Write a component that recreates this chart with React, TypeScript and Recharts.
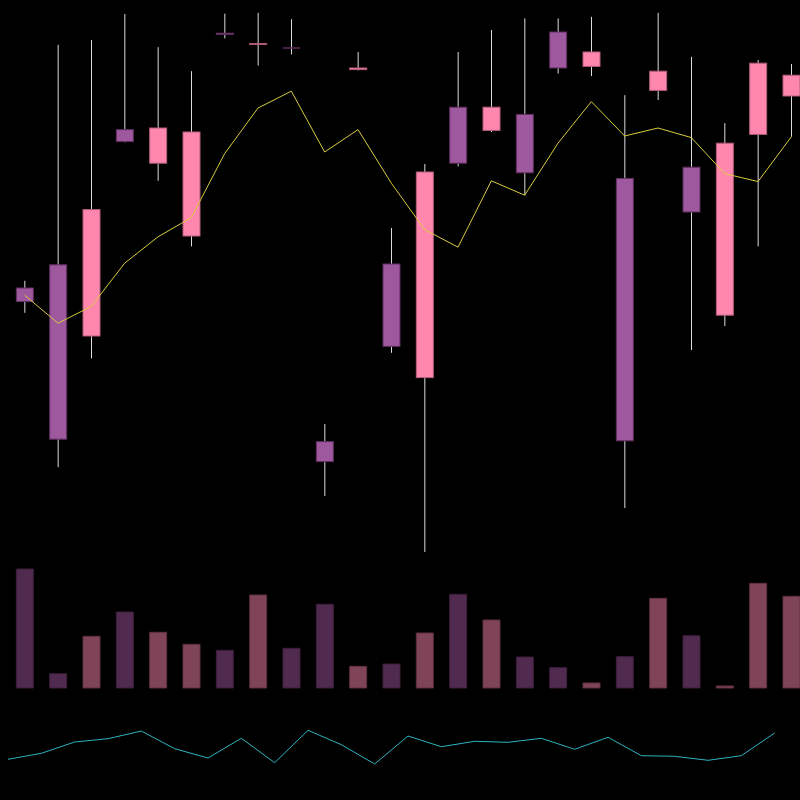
import React from 'react';
import { ComposedChart, Bar, Line, XAxis, YAxis, Cell } from 'recharts';

const dates = [
  'D01', 'D02', 'D03', 'D04', 'D05', 'D06', 'D07', 'D08', 'D09', 'D10', 'D11', 'D12',
  'D13', 'D14', 'D15', 'D16', 'D17', 'D18', 'D19', 'D20', 'D21', 'D22', 'D23', 'D24',
];
const opens = [85.0, 87.9, 79.0, 104.8, 100.6, 91.5, 116.85, 115.45, 115.0, 65.8, 112.3, 88.0,
  73.8, 107.6, 104.7, 106.7, 117.0, 112.7, 98.7, 109.7, 100.1, 81.6, 104.2, 109.0];
const closes = [83.3, 66.1, 94.8, 103.3, 105.0, 104.5, 116.7, 115.55, 115.0, 63.3, 112.5, 77.7,
  99.5, 100.6, 107.6, 99.4, 112.5, 114.5, 65.9, 112.1, 94.5, 103.1, 113.1, 111.6];
const highs = [85.9, 115.4, 116.0, 119.25, 115.1, 112.1, 119.3, 119.4, 118.6, 68.0, 114.5, 92.5,
  100.5, 114.5, 117.25, 118.7, 118.7, 118.9, 109.1, 119.4, 113.9, 105.6, 113.5, 113.0];
const lows = [81.9, 62.6, 76.2, 103.2, 98.4, 90.2, 116.2, 112.8, 114.2, 59.0, 112.2, 76.9,
  52.0, 100.2, 104.5, 96.6, 111.8, 111.5, 57.5, 108.5, 77.25, 80.25, 90.2, 103.9];
const movingAvg = [84.1, 80.6, 82.7, 88.1, 91.4, 93.8, 101.8, 107.5, 109.6, 102.0, 104.8, 98.1,
  92.3, 90.1, 98.4, 96.6, 103.1, 108.3, 104.0, 105.0, 103.8, 99.3, 98.3, 103.9];
const volumes = [1190, 143, 517, 760, 557, 437, 377, 930, 397, 837, 217, 240,
  550, 937, 680, 310, 203, 50, 313, 897, 523, 20, 1047, 917];
const indicator = [40.7, 46.7, 58.0, 61.3, 69.0, 51.3, 42.0, 61.7, 37.3, 69.7, 55.3, 36.0,
  64.0, 53.3, 58.7, 57.7, 61.7, 50.7, 62.7, 44.3, 43.7, 39.7, 44.3, 67.0];

const UP = '#FF87AE';
const UP_EDGE = '#B35C7A';
const DOWN = '#9D589E';
const DOWN_EDGE = '#5E2F5D';
const VOL_UP = '#804459';
const VOL_DOWN = '#512A4F';
const WICK = '#DDDDDD';
const MA_COLOR = '#D8CC3F';
const IND_COLOR = '#2FB3C2';

const data = dates.map((d, i) => ({
  date: d,
  idx: i,
  range: [lows[i], highs[i]],
  open: opens[i],
  close: closes[i],
  high: highs[i],
  low: lows[i],
  ma: movingAvg[i],
  volume: volumes[i],
  ind: indicator[i],
  up: closes[i] > opens[i],
}));

const Candle = (props: any) => {
  const { x, y, width, height, payload } = props;
  if (x == null || y == null) return null;
  const { open, close, high, low, up } = payload;
  const top = Math.min(y, y + height);
  const h = Math.abs(height);
  const span = high - low || 1;
  const toY = (v: number) => top + ((high - v) / span) * h;
  const cx = x + width / 2;
  const yo = toY(open);
  const yc = toY(close);
  const bodyTop = Math.min(yo, yc);
  const bodyH = Math.abs(yo - yc);
  const fill = up ? UP : DOWN;
  const edge = up ? UP_EDGE : DOWN_EDGE;
  return (
    <g>
      <line x1={cx} x2={cx} y1={top} y2={top + h} stroke={WICK} strokeWidth={1} />
      {bodyH < 0.5 ? (
        <line x1={x} x2={x + width} y1={bodyTop} y2={bodyTop} stroke={edge} strokeWidth={1.5} />
      ) : (
        <rect x={x} y={bodyTop} width={width} height={bodyH} fill={fill} stroke={edge} strokeWidth={1} />
      )}
    </g>
  );
};

export default function App() {
  return (
    <div style={{ width: 808, height: 808, background: '#000' }}>
      <style>{`html{background:#000;overflow:hidden;} body{background:#000;margin:0;}`}</style>
      <ComposedChart
        width={808}
        height={808}
        data={data}
        margin={{ top: 8, right: 0, bottom: 0, left: 8 }}
        barCategoryGap="25%"
        style={{ background: '#000' }}
      >
        <XAxis xAxisId="c" dataKey="date" type="category" hide />
        <XAxis xAxisId="v" dataKey="date" type="category" hide />
        <XAxis xAxisId="n" dataKey="idx" type="number" domain={[0, 24]} hide />
        <YAxis yAxisId="p" domain={[20, 120]} hide />
        <YAxis yAxisId="vol" domain={[-1200, 6800]} hide />
        <YAxis yAxisId="ind" domain={[-8, 792]} hide />
        <Bar
          xAxisId="v"
          yAxisId="vol"
          dataKey="volume"
          isAnimationActive={false}
        >
          {data.map((d, i) => (
            <Cell
              key={i}
              fill={d.up ? VOL_UP : VOL_DOWN}
              stroke={d.up ? '#5E3040' : '#3C1F3B'}
              strokeWidth={1}
            />
          ))}
        </Bar>
        <Bar
          xAxisId="c"
          yAxisId="p"
          dataKey="range"
          shape={<Candle />}
          isAnimationActive={false}
        />
        <Line
          xAxisId="c"
          yAxisId="p"
          dataKey="ma"
          stroke={MA_COLOR}
          strokeWidth={1}
          dot={false}
          activeDot={false}
          isAnimationActive={false}
        />
        <Line
          xAxisId="n"
          yAxisId="ind"
          dataKey="ind"
          stroke={IND_COLOR}
          strokeWidth={1}
          dot={false}
          activeDot={false}
          isAnimationActive={false}
        />
      </ComposedChart>
    </div>
  );
}
